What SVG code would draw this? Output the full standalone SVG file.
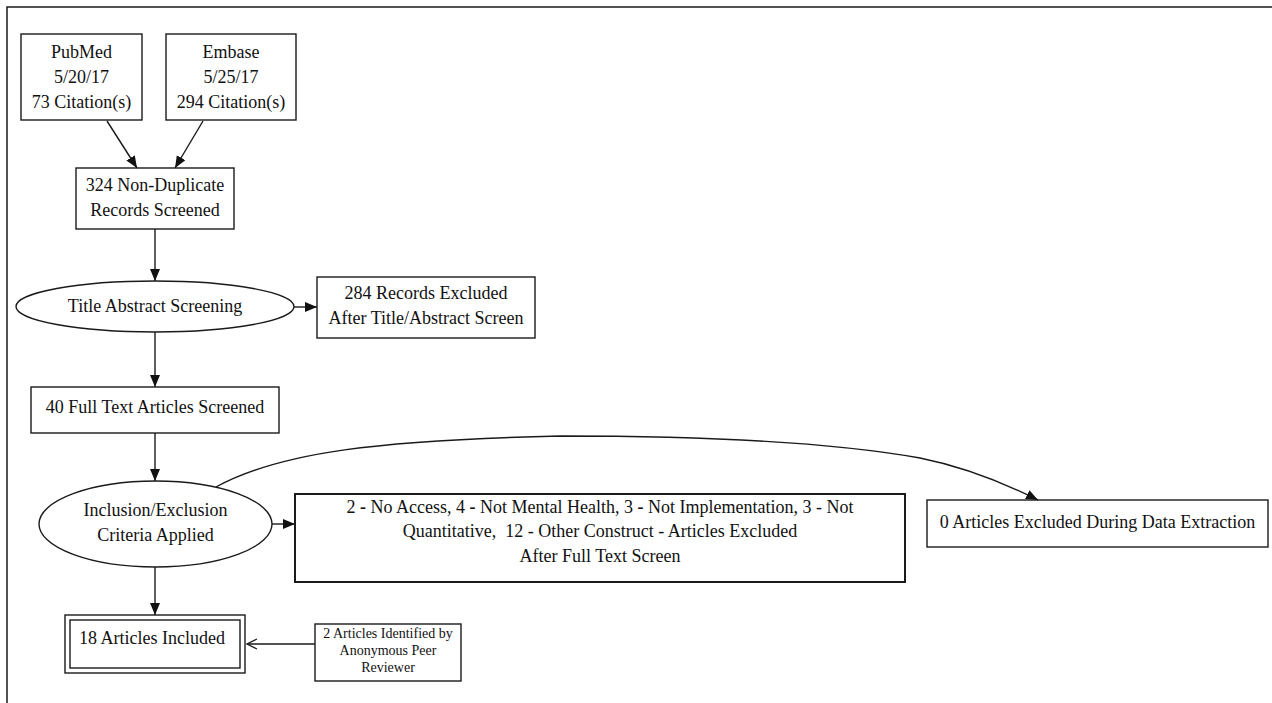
<svg xmlns="http://www.w3.org/2000/svg" width="1272" height="703" viewBox="0 0 1272 703">
<style>
  .box { fill: none; stroke: #1a1a1a; stroke-width: 1.4; }
  .thick { fill: none; stroke: #1a1a1a; stroke-width: 2; }
  .edge { fill: none; stroke: #1a1a1a; stroke-width: 1.4; }
  text { font-family: "Liberation Serif", "Times New Roman", serif; font-size: 18px; fill: #111; text-anchor: middle; }
  .small { font-size: 14px; }
</style>
<defs>
  <marker id="arr" markerUnits="userSpaceOnUse" markerWidth="14" markerHeight="12" refX="12" refY="5" orient="auto">
    <path d="M0,0 L12,5 L0,10 Z" fill="#111"/>
  </marker>
  <marker id="vee" markerUnits="userSpaceOnUse" markerWidth="14" markerHeight="14" refX="11" refY="6" orient="auto">
    <path d="M1,1 L11,6 L1,11" fill="none" stroke="#1a1a1a" stroke-width="1.3"/>
  </marker>
</defs>
<rect width="1272" height="703" fill="#fff"/>
<path d="M7,703 L7,7 L1272,7" fill="none" stroke="#1a1a1a" stroke-width="1.5"/>

<g id="connectors">
  <path class="edge" d="M107,121 L137,168" marker-end="url(#arr)"/>
  <path class="edge" d="M203,121 L175,168" marker-end="url(#arr)"/>
  <path class="edge" d="M155,229 L155,281" marker-end="url(#arr)"/>
  <path class="edge" d="M294,307 L317,307" marker-end="url(#arr)"/>
  <path class="edge" d="M155,332 L155,387" marker-end="url(#arr)"/>
  <path class="edge" d="M155,433 L155,481" marker-end="url(#arr)"/>
  <path class="edge" d="M272,524 L295,524" marker-end="url(#arr)"/>
  <path class="edge" d="M216,487 C280,452 380,440 560,436 C700,436 830,442 920,458 C960,466 1000,481 1038,500" marker-end="url(#arr)"/>
  <path class="edge" d="M155,567 L155,615" marker-end="url(#arr)"/>
  <path class="edge" d="M315,644 L247,644" marker-end="url(#vee)"/>
</g>

<g id="pubmed">
  <rect class="box" x="21" y="34" width="121" height="86"/>
  <text x="81.5" y="58">PubMed</text>
  <text x="81.5" y="83">5/20/17</text>
  <text x="81.5" y="108">73 Citation(s)</text>
</g>
<g id="embase">
  <rect class="box" x="166" y="34" width="130" height="86"/>
  <text x="231" y="58">Embase</text>
  <text x="231" y="83">5/25/17</text>
  <text x="231" y="108">294 Citation(s)</text>
</g>
<g id="nondup">
  <rect class="box" x="76" y="168" width="158" height="61"/>
  <text x="155" y="191">324 Non-Duplicate</text>
  <text x="155" y="216">Records Screened</text>
</g>
<g id="title_screen">
  <ellipse class="box" cx="155" cy="306.5" rx="139" ry="25.5"/>
  <text x="155" y="312">Title Abstract Screening</text>
</g>
<g id="excluded_title">
  <rect class="box" x="317" y="277" width="218" height="61"/>
  <text x="426" y="299">284 Records Excluded</text>
  <text x="426" y="324">After Title/Abstract Screen</text>
</g>
<g id="fulltext">
  <rect class="box" x="31" y="387" width="248" height="46"/>
  <text x="155" y="413">40 Full Text Articles Screened</text>
</g>
<g id="criteria">
  <ellipse class="box" cx="155.5" cy="524" rx="116.5" ry="43"/>
  <text x="155.5" y="516">Inclusion/Exclusion</text>
  <text x="155.5" y="541">Criteria Applied</text>
</g>
<g id="excluded_full">
  <rect class="thick" x="295" y="494" width="610" height="88"/>
  <text x="600" y="513">2 <tspan font-weight="bold">-</tspan> No Access, 4 <tspan font-weight="bold">-</tspan> Not Mental Health, 3 <tspan font-weight="bold">-</tspan> Not Implementation, 3 - Not</text>
  <text x="600" y="537" xml:space="preserve">Quantitative,  12 - Other Construct - Articles Excluded</text>
  <text x="600" y="562">After Full Text Screen</text>
</g>
<g id="excluded_extraction">
  <rect class="box" x="927" y="500" width="341" height="47"/>
  <text x="1097.5" y="528">0 Articles Excluded During Data Extraction</text>
</g>
<g id="included">
  <rect class="box" x="65" y="615" width="180" height="58"/>
  <rect class="box" x="70" y="620" width="170" height="48"/>
  <text x="152" y="644">18 Articles Included</text>
</g>
<g id="peer">
  <rect class="box" x="315" y="624" width="146" height="57"/>
  <text class="small" x="388" y="638">2 Articles Identified by</text>
  <text class="small" x="388" y="655">Anonymous Peer</text>
  <text class="small" x="388" y="672">Reviewer</text>
</g>
</svg>
